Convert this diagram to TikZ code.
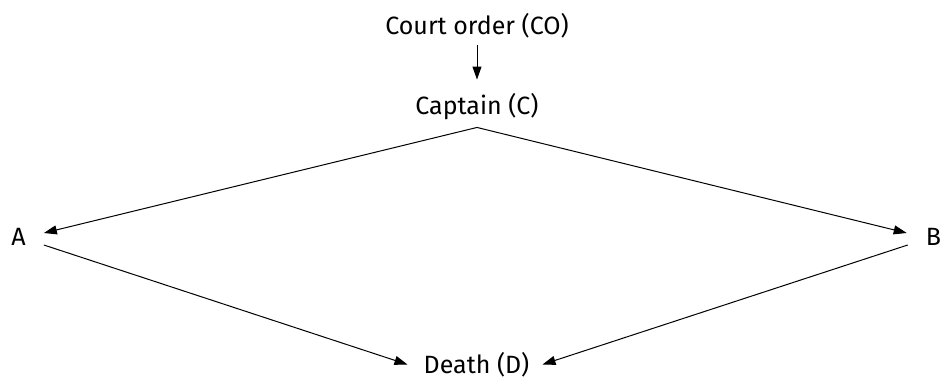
\documentclass[tikz,border=0pt]{standalone}
\usepackage{fontspec}
\setmainfont{Fira Sans}
\usetikzlibrary{arrows.meta}
\begin{document}
\begin{tikzpicture}[x=1pt,y=-1pt,
  lbl/.style={font=\fontsize{25}{30}\selectfont, inner sep=0pt,
              text height=17.5pt, text depth=0pt},
  arr/.style={line width=1pt, -{Triangle[length=13pt,width=9pt]}}]
  \useasboundingbox (0,0) rectangle (942,380);

  % labels (centre = middle of the capitals)
  \node[lbl] (CO) at (477,25.5) {Court order (CO)};
  \node[lbl] (C)  at (477,105.5) {Captain (C)};
  \node[lbl] (A)  at (18.5,236.5) {A};
  \node[lbl] (B)  at (933.5,236.5) {B};
  \node[lbl] (D)  at (476.5,364.5) {Death (D)};

  % order passed down
  \draw[arr, shorten <=11pt, shorten >=17pt] (CO.south) -- (C.north);

  % captain to the two soldiers
  \draw[arr] ([yshift=-13pt]C.south) -- ([xshift=18pt,yshift=3.5pt]A.east);
  \draw[arr] ([yshift=-13pt]C.south) -- ([xshift=-19pt,yshift=3.5pt]B.west);

  % soldiers to death
  \draw[arr] ([xshift=18pt,yshift=-8.5pt]A.east) -- ([xshift=-16pt]D.west);
  \draw[arr] ([xshift=-18pt,yshift=-8.5pt]B.west) -- ([xshift=13pt]D.east);
\end{tikzpicture}
\end{document}
